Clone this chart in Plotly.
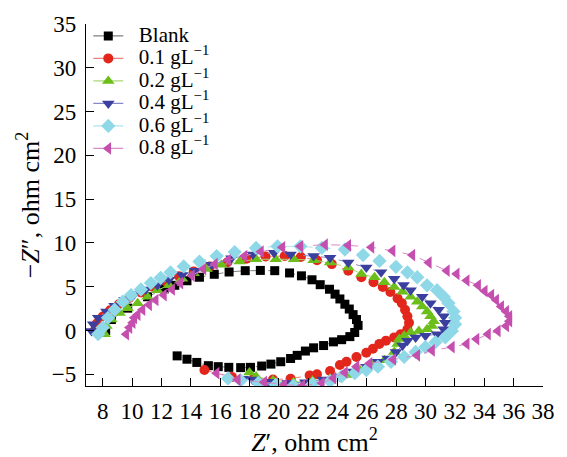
import plotly.graph_objects as go

# ---------------- data ----------------
series_labels = ["Blank", "0.1 gL<sup>−1</sup>", "0.2 gL<sup>−1</sup>",
                 "0.4 gL<sup>−1</sup>", "0.6 gL<sup>−1</sup>", "0.8 gL<sup>−1</sup>"]

blank_x = [8.2, 8.59, 9.7, 11.05, 12.2, 12.91, 13.74, 14.59, 15.60, 16.61, 17.71, 18.74, 19.72,
           20.73, 21.54, 22.26, 22.82, 23.45, 23.83, 24.16, 24.50, 24.80, 25.06, 25.29, 25.40,
           25.17, 24.84, 24.28, 23.72, 23.05, 22.37, 21.81, 21.25, 20.80, 20.13, 19.46, 18.83,
           18.07, 17.40, 16.59, 15.87, 15.20, 14.41, 13.74, 13.07]
blank_y = [0.0, 1.25, 2.55, 3.85, 4.75, 5.16, 5.68, 6.08, 6.42, 6.68, 6.83, 6.86, 6.83,
           6.57, 6.24, 5.79, 5.23, 4.71, 4.15, 3.60, 3.00, 2.45, 1.81, 1.25, 0.58,
           -0.23, -0.70, -1.05, -1.30, -1.72, -1.98, -2.35, -2.84, -3.20, -3.57, -3.84, -4.06,
           -4.21, -4.24, -4.21, -4.13, -4.02, -3.65, -3.28, -2.90]

c01_x = [7.45, 7.6, 8.0, 8.5, 9.1, 9.8, 10.6, 11.4, 12.3, 13.2, 14.2, 15.3, 16.5, 17.8, 19.1, 20.4,
         21.5, 22.6, 23.61, 24.73, 25.62, 26.45, 27.08, 27.6, 28.09, 28.38, 28.6, 28.76, 28.87,
         28.76, 28.31, 27.86, 27.3, 26.85, 26.41, 25.96, 25.29, 24.61, 24.16, 23.49, 22.6, 22.1,
         20.8, 19.6, 18.3, 16.8, 14.93]
c01_y = [0.0, 0.8, 1.6, 2.3, 3.0, 3.7, 4.35, 5.0, 5.6, 6.2, 6.75, 7.3, 7.8, 8.2, 8.45, 8.5,
         8.4, 8.02, 7.58, 6.83, 6.08, 5.52, 4.97, 4.4, 3.67, 3.12, 2.37, 1.62, 0.89,
         0.14, -0.42, -0.79, -1.16, -1.53, -2.09, -2.54, -3.02, -3.57, -3.95, -4.62, -5.0, -5.13,
         -5.51, -5.6, -5.45, -5.3, -4.51]

c02_x = [8.14, 8.25, 8.59, 9.15, 9.7, 10.38, 11.05, 11.72, 12.51, 13.4, 14.19, 15.08, 16.09, 17.33,
         18.45, 19.79, 21.03, 22.37, 23.49, 24.73, 25.62, 26.52, 27.19, 27.86, 28.43, 28.98, 29.43,
         29.77, 30.1, 30.33, 30.55, 30.44, 30.1, 29.54, 28.98, 28.54, 28.2, 28.09, 27.86, 27.19,
         26.41, 25.51, 24.61, 23.5, 22.3, 21.0, 19.6, 18.45, 18.0]
c02_y = [-0.42, 0.51, 1.25, 2.0, 2.55, 3.12, 3.85, 4.6, 5.16, 5.9, 6.53, 7.02, 7.5, 7.87,
         8.13, 8.13, 8.13, 8.02, 7.76, 7.2, 6.46, 6.08, 5.52, 4.97, 4.41, 3.85, 3.29,
         2.74, 2.18, 1.62, 1.06, 0.51, 0.14, -0.05, -0.23, -0.61, -0.98, -1.53, -2.46, -3.39,
         -3.95, -4.51, -5.07, -5.5, -5.75, -5.9, -5.7, -5.25, -4.8]

c04_x = [7.24, 7.35, 7.69, 8.25, 8.81, 9.48, 10.15, 10.93, 11.72, 12.51, 13.4, 14.3, 15.42, 16.77,
         18.23, 19.68, 20.8, 22.37, 23.49, 24.73, 25.96, 26.97, 27.86, 28.5, 28.98, 29.77, 30.33,
         30.89, 31.23, 31.34, 31.23, 30.78, 29.99, 29.32, 28.76, 28.43, 27.98, 27.42, 26.75, 25.96,
         25.07, 24.16, 23.0, 21.8, 20.6, 19.3, 18.2, 17.55]
c04_y = [-0.05, 0.7, 1.44, 2.18, 2.83, 3.48, 4.15, 4.68, 5.16, 5.79, 6.35, 6.83, 7.5, 8.24,
         8.69, 8.87, 8.69, 8.5, 8.32, 7.76, 7.2, 6.64, 5.9, 5.2, 4.6, 3.85, 3.12,
         2.37, 1.62, 0.89, 0.14, -0.42, -0.61, -0.79, -1.16, -1.72, -2.46, -3.2, -3.57, -4.13,
         -4.69, -5.25, -5.6, -5.9, -6.0, -5.85, -5.6, -5.5]

c06_x = [7.69, 8.0, 8.36, 8.81, 9.37, 9.93, 10.6, 11.28, 11.95, 12.62, 13.52, 14.59, 15.76, 16.99,
         18.45, 19.91, 21.47, 22.93, 24.5, 25.74, 26.86, 27.98, 28.76, 29.43, 30.1, 30.78, 31.23,
         31.56, 31.9, 32.01, 32.01, 31.79, 31.34, 30.67, 29.99, 29.32, 28.54, 27.64, 26.75, 25.96,
         25.18, 24.28, 23.49, 22.3, 21.0, 19.8, 18.6, 17.4, 16.54]
c06_y = [-0.42, 0.33, 1.44, 2.37, 3.29, 4.04, 4.68, 5.41, 6.01, 6.64, 7.31, 7.87, 8.5, 8.95,
         9.43, 9.61, 9.61, 9.43, 9.25, 8.61, 7.94, 7.27, 6.64, 6.08, 5.16, 4.6, 3.85,
         3.12, 2.18, 1.44, 0.7, -0.05, -0.79, -1.34, -1.9, -2.46, -3.02, -3.57, -4.13, -4.51,
         -4.88, -5.25, -5.8, -6.1, -6.3, -6.2, -6.0, -5.7, -5.47]

c08_x = [9.6, 9.82, 10.04, 10.15, 10.38, 10.71, 11.16, 11.61, 12.17, 12.73, 13.29, 14.08, 14.86,
         15.65, 16.54, 17.66, 18.78, 20.24, 21.47, 23.15, 24.73, 26.31, 27.75, 29.1, 30.22, 31.45,
         32.12, 32.8, 33.58, 34.03, 34.48, 34.81, 35.15, 35.49, 35.71, 35.71, 35.49, 34.92, 34.25,
         33.47, 32.8, 31.79, 30.44, 29.43, 27.8, 26.18, 25.29, 24.5, 23.72, 22.93, 21.6, 20.36,
         19.0, 17.2, 15.76]
c08_y = [-0.42, 0.33, 0.89, 1.44, 1.81, 2.37, 2.93, 3.48, 4.04, 4.68, 5.41, 6.27, 7.02,
         7.58, 8.02, 8.5, 9.0, 9.5, 9.61, 9.8, 9.73, 9.5, 9.1, 8.61, 7.76, 6.83,
         6.46, 5.71, 5.16, 4.5, 4.04, 3.48, 2.74, 2.18, 1.62, 1.06, 0.51, -0.05, -0.42,
         -0.98, -1.53, -1.9, -2.28, -2.84, -3.3, -3.76, -4.13, -4.8, -5.44, -6.0, -6.3, -6.2,
         -5.9, -5.62, -4.87]

x_tickvals = [8, 10, 12, 14, 16, 18, 20, 22, 24, 26, 28, 30, 32, 34, 36, 38]
y_tickvals = [-5, 0, 5, 10, 15, 20, 25, 30, 35]

# ---------------- style ----------------
xs = [blank_x, c01_x, c02_x, c04_x, c06_x, c08_x]
ys = [blank_y, c01_y, c02_y, c04_y, c06_y, c08_y]
marker_colors = ["#000000", "#e3261c", "#6cbf1b", "#3b3f9e", "#8fd8e8", "#c44fae"]
line_colors = ["#808080", "#f08080", "#a9d873", "#8688c8", "#ade3ee", "#d98bc9"]
symbols = ["square", "circle", "triangle-up", "triangle-down", "diamond", "triangle-left"]
sizes = [9, 10, 11, 11, 11, 11]

fig = go.Figure()
for i in range(len(xs)):
    fig.add_trace(go.Scatter(
        x=xs[i], y=ys[i], mode="lines+markers", showlegend=False,
        line=dict(color=line_colors[i], width=1, dash="dash"),
        marker=dict(symbol=symbols[i], color=marker_colors[i], size=sizes[i], line=dict(width=0)),
    ))
for i in range(len(xs)):
    fig.add_trace(go.Scatter(
        x=[None], y=[None], mode="lines+markers",
        name='<span style="font-size:21px">&nbsp;&nbsp;' + series_labels[i] + '</span>',
        line=dict(color=line_colors[i], width=1.2),
        marker=dict(symbol=symbols[i], color=marker_colors[i], size=sizes[i], line=dict(width=0)),
    ))

font_family = "Liberation Serif"
fig.update_layout(
    width=567, height=457,
    margin=dict(l=86, r=19, t=17, b=69),
    plot_bgcolor="white", paper_bgcolor="white",
    font=dict(family=font_family, size=23, color="black"),
    legend=dict(x=0.005, y=1.012, xanchor="left", yanchor="top",
                bgcolor="rgba(0,0,0,0)", font=dict(size=15), tracegroupgap=0,
                itemwidth=30),
)
fig.update_xaxes(
    range=[6.86, 38], tickvals=x_tickvals, ticktext=[str(v) for v in x_tickvals],
    ticks="inside", ticklen=8, tickwidth=1.2, tickcolor="black",
    showline=True, linecolor="black", linewidth=1.4, showgrid=False, zeroline=False,
    ticklabelstandoff=4, tickfont=dict(size=23),
    title=dict(text="<i>Z</i>′, ohm cm<sup>2</sup>", standoff=3, font=dict(size=26)),
)
fig.update_yaxes(
    range=[-6.34, 35], tickvals=y_tickvals,
    ticktext=[("−" + str(-v)) if v < 0 else str(v) for v in y_tickvals],
    ticks="inside", ticklen=8, tickwidth=1.2, tickcolor="black",
    showline=True, linecolor="black", linewidth=1.4, showgrid=False, zeroline=False,
    ticklabelstandoff=4, tickfont=dict(size=23),
    title=dict(text="−<i>Z</i>″, ohm cm<sup>2</sup>", standoff=4, font=dict(size=26)),
)

fig.write_html("out.html")
